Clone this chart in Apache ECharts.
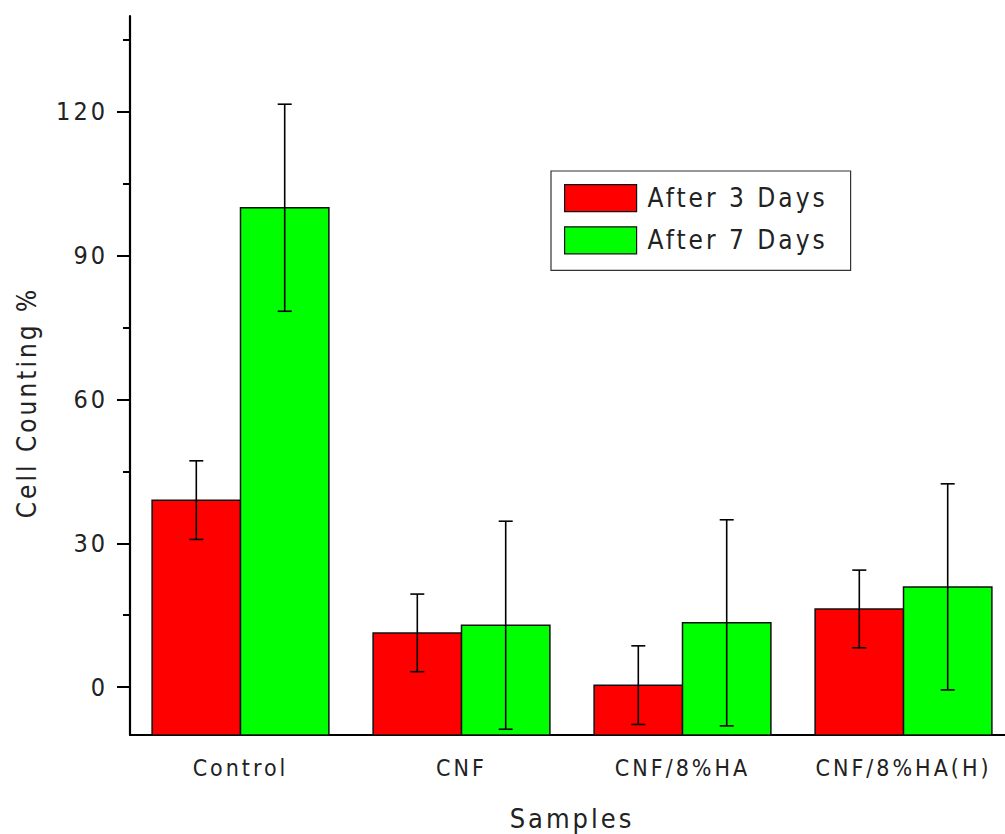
<!DOCTYPE html>
<html>
<head>
<meta charset="utf-8">
<script src="https://cdn.jsdelivr.net/npm/echarts@6/dist/echarts.min.js"></script>
<style>
  html, body { margin: 0; padding: 0; background: #fff; }
  #chart { width: 1005px; height: 834px; letter-spacing: 3px; }
</style>
</head>
<body>
<div id="chart"></div>
<script>
// data
const categories = ['Control', 'CNF', 'CNF/8%HA', 'CNF/8%HA(H)'];
const seriesNames = ['After 3 Days', 'After 7 Days'];
const after3 = [39.0, 11.3, 0.4, 16.3];
const after3Err = [8.2, 8.1, 8.2, 8.1];
const after7 = [100.0, 12.9, 13.4, 20.9];
const after7Err = [21.6, 21.7, 21.5, 21.5];
const yMajorTicks = [0, 30, 60, 90, 120];
const yMinorTicks = [15, 45, 75, 105, 135];
const Y_MIN = -10;
const Y_MAX = 140;

const FONT = "'Liberation Sans Narrow', 'DejaVu Sans Condensed', 'Liberation Sans', Arial, sans-serif";
const TEXT = '#222';

const chart = echarts.init(document.getElementById('chart'), null, { renderer: 'svg' });

// bars grow from the bottom of the axis, with an error bar in the middle
const makeRender = side => (params, api) => {
    const cat = api.value(0);
    const val = api.value(1);
    const err = api.value(2);
    const band = api.size([1, 0])[0];
    const w = band * 0.4;
    const base = api.coord([cat, Y_MIN]);
    const top = api.coord([cat, val]);
    const x0 = side === 0 ? base[0] - w : base[0];
    const cx = x0 + w / 2;
    const hi = api.coord([cat, val + err])[1];
    const lo = api.coord([cat, val - err])[1];
    const cap = 7;
    const line = { stroke: '#000', lineWidth: 1.6 };
    return {
        type: 'group',
        children: [
            {
                type: 'rect',
                shape: { x: x0, y: top[1], width: w, height: base[1] - top[1] },
                style: { fill: api.visual('color'), stroke: '#111', lineWidth: 1.5 },
            },
            { type: 'line', shape: { x1: cx, y1: hi, x2: cx, y2: lo }, style: line },
            { type: 'line', shape: { x1: cx - cap, y1: hi, x2: cx + cap, y2: hi }, style: line },
            { type: 'line', shape: { x1: cx - cap, y1: lo, x2: cx + cap, y2: lo }, style: line },
        ],
    };
};

const toData = (vals, errs) => vals.map((v, i) => [i, v, errs[i]]);

chart.setOption({
    animation: false,
    backgroundColor: '#fff',
    grid: {
        left: 130,
        top: 16,
        right: -9,
        bottom: 99,
        outerBoundsMode: 'none',
    },
    legend: {
        data: seriesNames,
        orient: 'vertical',
        left: 551,
        top: 171,
        icon: 'rect',
        itemWidth: 72,
        itemHeight: 27,
        itemGap: 14,
        padding: [13, 13, 16, 13],
        borderColor: '#333',
        borderWidth: 1.2,
        itemStyle: { borderColor: '#111', borderWidth: 1.2 },
        textStyle: {
            fontFamily: FONT,
            fontSize: 26,
            color: TEXT,
            lineHeight: 27,
            width: 190,
            padding: [0, 0, 0, 6],
        },
    },
    xAxis: [
        {
            type: 'category',
            data: categories,
            position: 'bottom',
            name: 'Samples',
            nameLocation: 'middle',
            nameGap: 70,
            nameTextStyle: { fontFamily: FONT, fontSize: 27, color: TEXT },
            axisLine: { onZero: false, lineStyle: { color: '#000', width: 2.2 } },
            axisTick: { alignWithLabel: true, length: 13, lineStyle: { color: '#000', width: 2 } },
            axisLabel: { fontFamily: FONT, fontSize: 23, color: TEXT, margin: 21 },
            splitLine: { show: false },
        },
        {
            // short ticks at the category boundaries
            type: 'category',
            data: categories,
            position: 'top',
            offset: -719,
            axisLine: { show: false },
            axisTick: { inside: true, length: 7, lineStyle: { color: '#000', width: 2 } },
            axisLabel: { show: false },
            splitLine: { show: false },
        },
    ],
    yAxis: [
        {
            type: 'value',
            min: Y_MIN,
            max: Y_MAX,
            position: 'left',
            name: 'Cell Counting %',
            nameLocation: 'middle',
            nameGap: 90,
            nameTextStyle: { fontFamily: FONT, fontSize: 26, color: TEXT, padding: [0, 54, 0, 0] },
            axisLine: { show: true, lineStyle: { color: '#000', width: 2.2 } },
            axisTick: { show: true, length: 13, customValues: yMajorTicks, lineStyle: { color: '#000', width: 2 } },
            axisLabel: { customValues: yMajorTicks, fontFamily: FONT, fontSize: 25, color: TEXT, margin: 22 },
            splitLine: { show: false },
        },
        {
            // minor ticks, laid over the left axis
            type: 'value',
            min: Y_MIN,
            max: Y_MAX,
            position: 'right',
            offset: -884,
            axisLine: { show: false },
            axisTick: { show: true, inside: true, length: 7, customValues: yMinorTicks, lineStyle: { color: '#000', width: 2 } },
            axisLabel: { show: false },
            splitLine: { show: false },
        },
    ],
    series: [
        {
            name: seriesNames[0],
            type: 'custom',
            itemStyle: { color: '#ff0000' },
            renderItem: makeRender(0),
            encode: { x: 0, y: 1 },
            data: toData(after3, after3Err),
            z: 2,
        },
        {
            name: seriesNames[1],
            type: 'custom',
            itemStyle: { color: '#00ff00' },
            renderItem: makeRender(1),
            encode: { x: 0, y: 1 },
            data: toData(after7, after7Err),
            z: 3,
        },
    ],
});
</script>
</body>
</html>
